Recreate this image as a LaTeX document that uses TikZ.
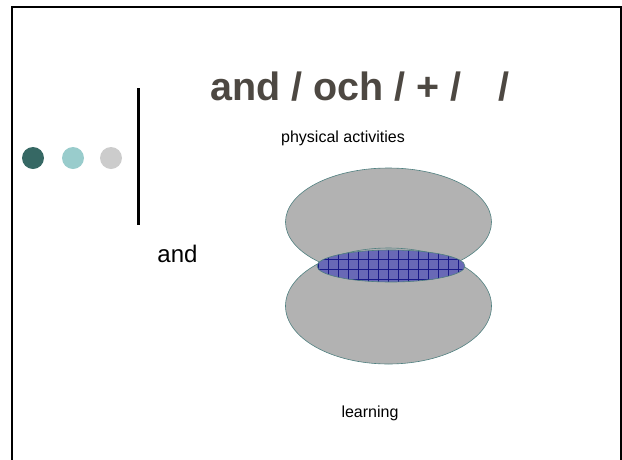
\documentclass[tikz,border=0pt]{standalone}
\usepackage{fontspec}
\setmainfont{Liberation Sans}
\usetikzlibrary{shapes.geometric}
\definecolor{titlecol}{RGB}{77,72,66}
\definecolor{dotdark}{RGB}{54,104,100}
\definecolor{dotlight}{RGB}{153,204,204}
\definecolor{dotgrey}{RGB}{204,204,204}
\definecolor{blobfill}{RGB}{178,178,178}
\definecolor{blobline}{RGB}{80,128,128}
\definecolor{lensfill}{RGB}{105,105,182}
\definecolor{gridcol}{RGB}{25,25,135}
\begin{document}
\begin{tikzpicture}[x=1pt,y=-1pt,
  frameline/.style={line width=2pt,black},
  dot/.style={circle,inner sep=0pt,minimum size=22pt},
  blob/.style={ellipse,draw=blobline,fill=blobfill,line width=0.6pt,inner sep=0pt},
  lbl/.style={anchor=base,inner sep=0pt,font=\fontsize{16}{18}\selectfont}]
\useasboundingbox (0,0) rectangle (622,459);
% frame
\coordinate (fbl) at (12,480);
\coordinate (ftl) at (12,7);
\coordinate (ftr) at (620.5,7);
\coordinate (fbr) at (620.5,480);
\draw[frameline] (fbl) -- (ftl) -- (ftr) -- (fbr);
% vertical rule
\coordinate (vt) at (138,88);
\coordinate (vb) at (138,225);
\draw[line width=3pt] (vt) -- (vb);
% dots
\node[dot,fill=dotdark] (d1) at (33,158) {};
\node[dot,fill=dotlight] (d2) at (73,158) {};
\node[dot,fill=dotgrey] (d3) at (111,158) {};
% title
\node[anchor=base,inner sep=0pt,text=titlecol,font=\fontsize{39.5}{42}\selectfont\bfseries] (title) at (360,100) {and / och / + /\hspace{37pt}/};
% labels
\node[lbl] (phys) at (343,142) {physical activities};
\node[anchor=base,inner sep=0pt,font=\fontsize{24}{26}\selectfont] (and) at (177.5,262) {and};
\node[lbl] (learn) at (370,417) {learning};
% ellipses
\node[blob,minimum width=206pt,minimum height=108pt] (top) at (388.5,222) {};
\node[blob,minimum width=206pt,minimum height=116pt] (bot) at (388.5,306) {};
% lens
\begin{scope}
  \clip (391,266) ellipse [x radius=74, y radius=16];
  \fill[lensfill] (317,250) rectangle (465,282);
  \foreach \gx in {318,328,...,468} \draw[gridcol,line width=0.5pt] (\gx,248) -- (\gx,284);
  \foreach \gy in {249,259,...,289} \draw[gridcol,line width=0.5pt] (315,\gy) -- (467,\gy);
\end{scope}
\node[ellipse,draw=blobline,line width=0.6pt,minimum width=148pt,minimum height=32pt,inner sep=0pt] (lens) at (391,266) {};
\end{tikzpicture}
\end{document}
